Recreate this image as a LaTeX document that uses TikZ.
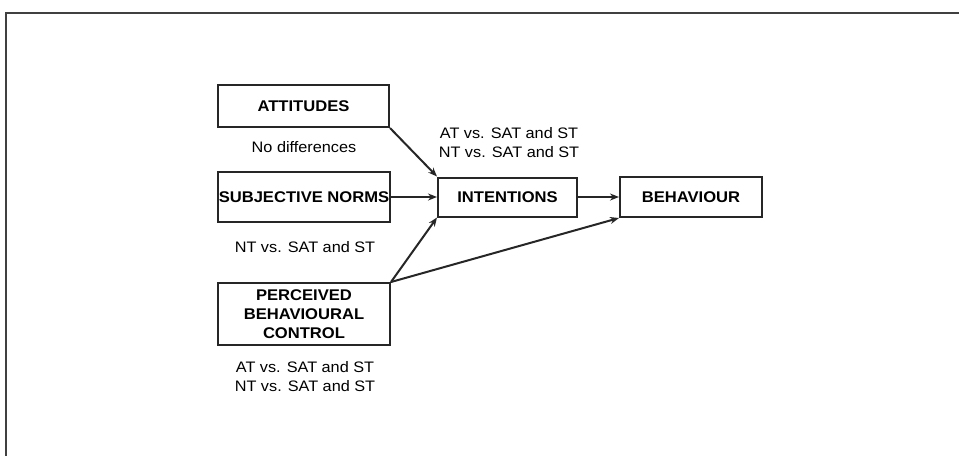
\documentclass[tikz,border=0pt]{standalone}
\usepackage{fontspec}
\setmainfont{Liberation Sans}[FakeStretch=1.07]
\usetikzlibrary{arrows.meta}
\begin{document}
\begin{tikzpicture}[x=1pt,y=-1pt,
  box/.style={draw=black!85, line width=2pt, inner sep=0pt, align=center,
    font=\fontsize{15.5}{19}\selectfont\bfseries},
  note/.style={inner sep=0pt, align=center,
    font=\fontsize{15.2}{19}\selectfont},
  link/.style={draw=black!85, line width=2pt,
    -{Stealth[length=9pt,width=7pt]}}]
\useasboundingbox (0,0) rectangle (959,456);
% frame (top and left edges)
\draw[line width=2.5pt, black!75] (959,13) -- (6,13) -- (6,456);

% constructs
\node[box, minimum width=171pt, minimum height=42pt] (att) at (303.5,106) {ATTITUDES};
\node[box, minimum width=172pt, minimum height=50pt] (sn) at (304,197) {SUBJECTIVE NORMS};
\node[box, minimum width=172pt, minimum height=62pt] (pbc) at (304,314)
  {PERCEIVED\\BEHAVIOURAL\\CONTROL};
\node[box, minimum width=139pt, minimum height=39pt] (int) at (507.5,197) {INTENTIONS};
\node[box, minimum width=142pt, minimum height=40pt] (beh) at (691,197) {BEHAVIOUR};

% group differences
\node[note] (attnote) at (304,147) {No differences};
\node[note] (snnote) at (305,247) {NT vs. SAT and ST};
\node[note] (pbcnote) at (305,377) {AT vs. SAT and ST\\NT vs. SAT and ST};
\node[note] (intnote) at (509,142.5) {AT vs. SAT and ST\\NT vs. SAT and ST};

% paths
\draw[link] (att.south east) -- (int.north west);
\draw[link] (sn.east) -- (int.west);
\draw[link] (pbc.north east) -- (int.south west);
\draw[link] (pbc.north east) -- (beh.south west);
\draw[link] (int.east) -- (beh.west);
\end{tikzpicture}
\end{document}
